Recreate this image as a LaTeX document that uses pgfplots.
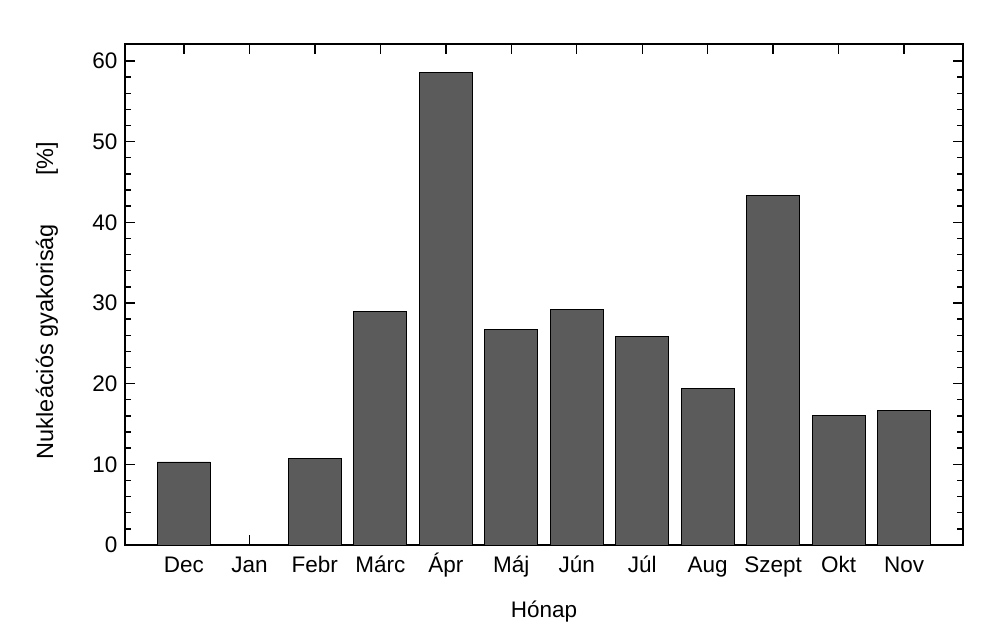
\documentclass[border=0pt]{standalone}
\usepackage{pgfplots}
\pgfplotsset{compat=1.18}
\usepackage{fontspec}
\setmainfont{Liberation Sans}
\definecolor{barfill}{HTML}{5B5B5B}
\begin{document}
\begin{tikzpicture}[x=1pt,y=1pt]
\begin{axis}[
  scale only axis,
  width=838pt, height=501pt,
  xmin=-0.9, xmax=11.9,
  ymin=0, ymax=62.1,
  xtick={0,...,11},
  xticklabels={Dec,Jan,Febr,Márc,Ápr,Máj,Jún,Júl,Aug,Szept,Okt,Nov},
  ytick={0,10,20,30,40,50,60},
  minor y tick num=4,
  tick align=inside,
  major tick length=10pt,
  minor tick length=6pt,
  axis line style={line width=1.4pt},
  every tick/.style={line width=1.4pt, black},
  xtick pos=both, ytick pos=both,
  xticklabel pos=lower, yticklabel pos=left,
  /pgf/number format/assume math mode=true,
  tick label style={font=\fontsize{22.5}{26}\selectfont},
  label style={font=\fontsize{22.5}{26}\selectfont},
  xlabel={Hónap},
  ylabel={Nukleációs gyakoriság\hspace{48pt}[\%]},
  xlabel style={at={(axis description cs:0.5,0)}, anchor=center, yshift=-67pt},
  ylabel style={at={(axis description cs:0,0.5)}, anchor=center, rotate=0, yshift=78pt, xshift=-6pt, font=\fontsize{23.5}{26}\selectfont},
  x tick label style={anchor=north, text height=16pt, text depth=5pt, yshift=-8pt},
  y tick label style={xshift=-4pt},
  clip=false,
]
\addplot[ybar, bar width=0.81, fill=barfill, draw=black, line width=0.8pt]
  coordinates {(0,10.3) (1,0) (2,10.7) (3,29.0) (4,58.6) (5,26.7) (6,29.2) (7,25.8) (8,19.4) (9,43.3) (10,16.1) (11,16.7)};
\end{axis}
\path (current axis.south west) ++(-125pt,-98pt) rectangle ++(998pt,643pt);
\end{tikzpicture}
\end{document}
